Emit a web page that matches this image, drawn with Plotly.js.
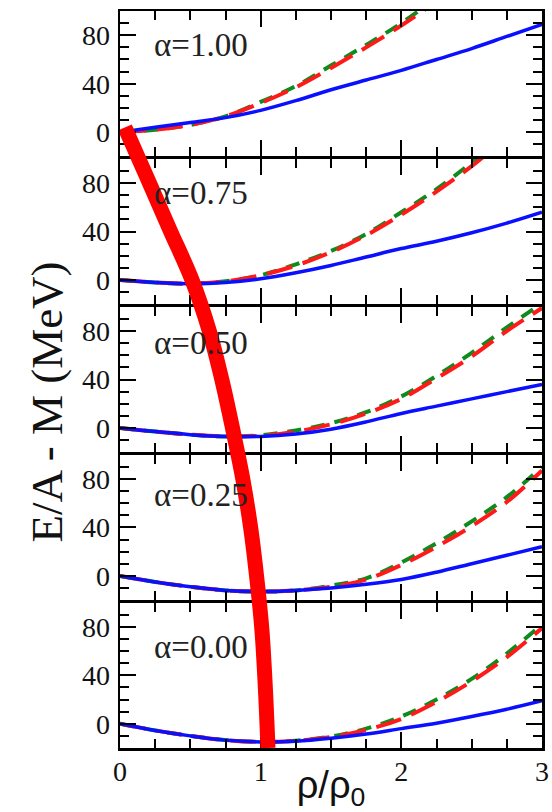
<!DOCTYPE html>
<html>
<head>
<meta charset="utf-8">
<script src="https://cdn.plot.ly/plotly-3.0.1.min.js"></script>
<style>
  html, body { margin: 0; padding: 0; background: #fff; }
  #chart { width: 552px; height: 812px; }
</style>
</head>
<body>
<div id="chart"></div>
<script>
// Density grid (rho / rho_0)
const rho = [0, 0.25, 0.5, 0.75, 1.0, 1.25, 1.5, 1.75, 2.0, 2.25, 2.5, 2.75, 3.0];

// Energy per nucleon E/A - M (MeV) for each asymmetry alpha
const blue100  = [0, 4, 8, 12, 18, 26, 35, 43, 51, 60, 69, 79, 89];
const red100   = [0, 2, 6, 13, 24, 37, 53, 70, 88, 108, 130, 154, 180];
const green100 = [0, 2, 6, 13, 25, 38, 55, 72, 90, 111, 133, 157, 183];

const blue075  = [0, -2, -3, -2, 1, 6, 12, 19, 26, 32, 39, 47, 56];
const red075   = [0, -2, -3, -1, 4, 12, 23, 37, 54, 73, 94, 118, 143];
const green075 = [0, -2, -3, -1, 4, 13, 24, 38, 56, 75, 97, 121, 146];

const blue050  = [0, -3, -5.5, -7, -7, -5, -1, 5, 12, 18, 24, 30, 36];
const red050   = [0, -3, -5.5, -7, -6.5, -3, 3, 12, 24, 41, 59, 80, 99];
const green050 = [0, -3, -5.5, -7, -6, -2, 4, 13, 26, 43, 62, 83, 103];

const blue025  = [0, -5, -9, -12, -13, -12, -10, -7, -3, 3, 10, 17, 24];
const red025   = [0, -5, -9, -12, -13, -12, -9, -3, 9, 24, 41, 61, 87];
const green025 = [0, -5, -9, -12, -13, -12, -8, -2, 11, 27, 45, 65, 90];

const blue000  = [0, -5.5, -10, -13.5, -15, -14.5, -12, -8.5, -4, 0.5, 6, 12, 19];
const red000   = [0, -5.5, -10, -13.5, -15, -14, -11, -5, 4, 18, 35, 55, 79];
const green000 = [0, -5.5, -10, -13.5, -15, -14, -10.5, -4, 6, 20, 37, 58, 82];

const alphaLabels = ['α=1.00', 'α=0.75', 'α=0.50', 'α=0.25', 'α=0.00'];

// Saturation guide drawn across all panels: rho/rho_0 vs fraction of the full plot height
const guideRho  = [0.035, 0.199, 0.355, 0.512, 0.633, 0.725, 0.803, 0.874, 0.931, 0.974, 1.009, 1.034, 1.052];
const guideFrac = [0.842, 0.771, 0.703, 0.635, 0.567, 0.499, 0.431, 0.364, 0.296, 0.228, 0.160, 0.079, 0.0];

const blueSets  = [blue100, blue075, blue050, blue025, blue000];
const redSets   = [red100, red075, red050, red025, red000];
const greenSets = [green100, green075, green050, green025, green000];
const labelY    = [72, 72, 70, 67, 63];

const serif = 'Liberation Serif';
const frameW = 2.5;
const plotH = 812 - 11 - 64;
// a gap of one line width lets the frame lines of neighbouring panels coincide
const gap = frameW / plotH;
const panelH = (1 - 4 * gap) / 5;

const traces = [];
const layout = {
  width: 552, height: 812,
  margin: {l: 120, r: 10, t: 11, b: 64},
  paper_bgcolor: '#ffffff',
  plot_bgcolor: 'rgba(0,0,0,0)',
  showlegend: false,
  annotations: []
};

for (let i = 0; i < 5; i++) {
  const n = i + 1;
  const xa = 'x' + n, ya = 'y' + n;
  const lo = (4 - i) * (panelH + gap);
  const hi = lo + panelH;

  traces.push({x: rho, y: greenSets[i], xaxis: xa, yaxis: ya, mode: 'lines',
    line: {color: '#0f8a1c', width: 4, dash: '14px,10px', shape: 'spline'}});
  traces.push({x: rho, y: redSets[i], xaxis: xa, yaxis: ya, mode: 'lines',
    line: {color: '#ff1a1a', width: 4, dash: '26px,11px', shape: 'spline'}});
  traces.push({x: rho, y: blueSets[i], xaxis: xa, yaxis: ya, mode: 'lines',
    line: {color: '#0a10ff', width: 3.5, shape: 'spline'}});

  layout['xaxis' + n] = {
    domain: [0, 1], range: [0, 3], anchor: ya,
    showline: true, linewidth: frameW, linecolor: '#000', mirror: 'allticks',
    ticks: 'inside', ticklen: 16, tickwidth: 2, tickcolor: '#000',
    tick0: 0, dtick: 1,
    minor: {dtick: 0.25, ticks: 'inside', ticklen: 9, tickwidth: 2, tickcolor: '#000'},
    showgrid: false, zeroline: false,
    showticklabels: i === 4, ticklabelstandoff: -3,
    tickfont: {family: serif, size: 28, color: '#111'}
  };
  layout['yaxis' + n] = {
    domain: [lo, hi], range: [-20, 100], anchor: xa,
    showline: true, linewidth: frameW, linecolor: '#000', mirror: 'allticks',
    ticks: 'inside', ticklen: 16, tickwidth: 2, tickcolor: '#000',
    tick0: 0, dtick: 40,
    minor: {dtick: 10, ticks: 'inside', ticklen: 9, tickwidth: 2, tickcolor: '#000'},
    showgrid: false, zeroline: false,
    tickfont: {family: serif, size: 28, color: '#111'}, ticklabelstandoff: 2
  };
  layout.annotations.push({
    xref: xa, yref: ya, x: 0.23, y: labelY[i], xanchor: 'left', yanchor: 'middle',
    text: alphaLabels[i], showarrow: false,
    font: {family: serif, size: 33, color: '#222'}
  });
}

layout.xaxis5.title = {
  text: 'ρ/ρ<sub>0</sub>', standoff: 8,
  font: {family: 'Liberation Sans', size: 38, color: '#111'}
};

// Full-height overlay carrying the guide curve
layout.xaxis6 = {domain: [0, 1], range: [0, 3], anchor: 'y6', visible: false};
layout.yaxis6 = {domain: [0, 1], range: [0, 1], anchor: 'x6', visible: false};
traces.push({x: guideRho, y: guideFrac, xaxis: 'x6', yaxis: 'y6', mode: 'lines',
  line: {color: '#ff0000', width: 15, shape: 'spline'}});

layout.annotations.push({
  xref: 'paper', yref: 'paper', x: -0.173, y: 0.47, xanchor: 'center', yanchor: 'middle',
  textangle: -90, text: 'E/A - M (MeV)', showarrow: false,
  font: {family: serif, size: 45, color: '#111'}
});

Plotly.newPlot('chart', traces, layout, {staticPlot: true, displayModeBar: false});
</script>
</body>
</html>
